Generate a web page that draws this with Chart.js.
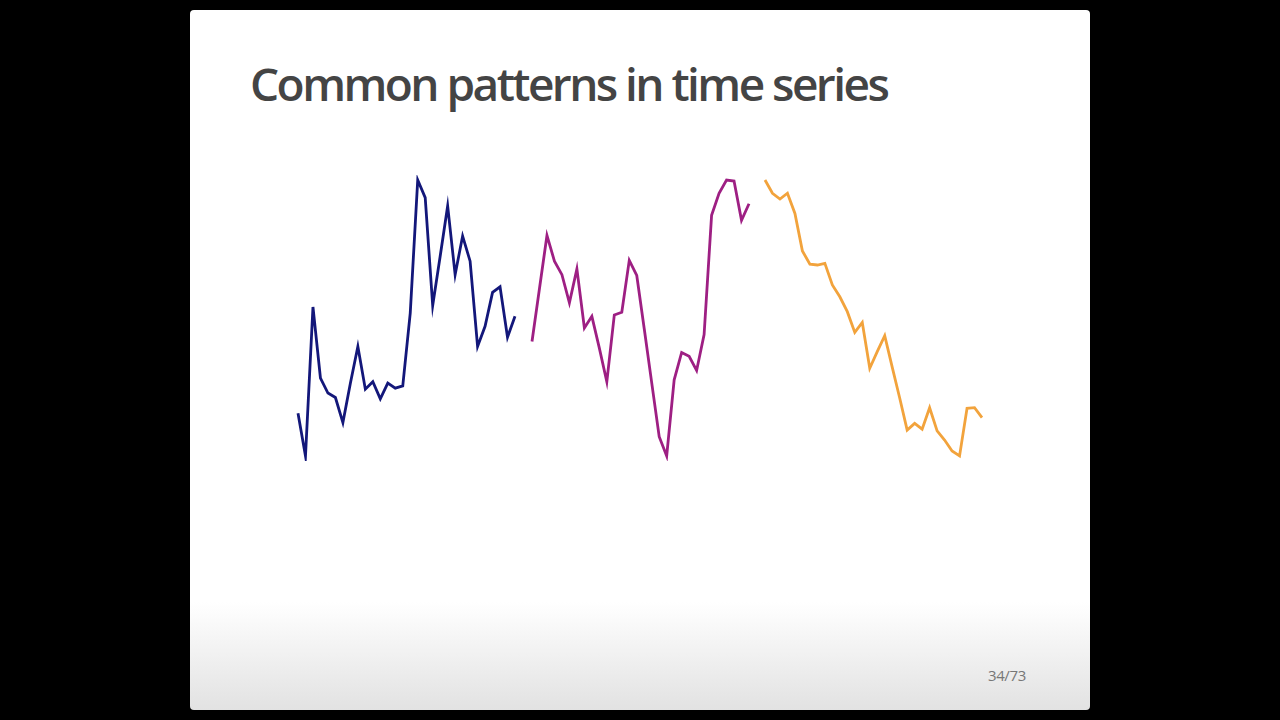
<!DOCTYPE html>
<html>
<head>
<meta charset="utf-8">
<script src="https://cdn.jsdelivr.net/npm/chart.js@4.4.0/dist/chart.umd.min.js"></script>
<style>
    html, body { margin: 0; padding: 0; background: #000; width: 1280px; height: 720px; overflow: hidden; }
    #slide {
        position: absolute; left: 190px; top: 10px; width: 900px; height: 700px; border-radius: 4px;
        background: linear-gradient(to bottom, #fff 0px, #fff 592px, #e2e2e2 700px);
    }
    #title {
        position: absolute; left: 60px; top: 42px; margin: 0;
        font-family: 'Open Sans', sans-serif; font-weight: 600; font-size: 46px; line-height: normal;
        letter-spacing: -2.55px; color: #444; white-space: nowrap;
    }
    .panel { position: absolute; top: 165px; }
    #page { position: absolute; left: 798px; top: 655px; font: 15px 'Open Sans', sans-serif; color: #777; letter-spacing: -0.4px; }
</style>
</head>
<body>
<div id="slide">
    <h1 id="title">Common patterns in time series</h1>
    <canvas class="panel" id="panel0" width="227" height="286"></canvas>
    <canvas class="panel" id="panel1" width="227" height="286"></canvas>
    <canvas class="panel" id="panel2" width="227" height="286"></canvas>
    <div id="page">34/73</div>
</div>
<script>
// values, scaled 0..100 within each panel
const steps = Array.from({ length: 30 }, (_, i) => i);

const navyValues = [15.5, 0, 54.0, 28.2, 22.8, 21.2, 12.1, 26.4, 39.7, 24.2,
    26.9, 20.7, 26.4, 24.6, 25.4, 51.8, 100, 93.6, 54.5, 72.4,
    90.6, 65.7, 79.7, 70.6, 39.7, 47.0, 59.3, 61.3, 43.0, 50.6];

const purpleValues = [41.5, 60.7, 79.9, 70.6, 65.7, 55.5, 67.8, 46.4, 50.6, 39.1,
    26.9, 51.1, 52.1, 70.9, 65.4, 46.1, 26.5, 7.0, 0, 27.6,
    37.5, 36.1, 31.0, 44.0, 87.2, 95.2, 100, 99.6, 85.4, 91.4];

const orangeValues = [100, 95.2, 93.1, 95.2, 87.9, 74.3, 69.5, 69.2, 69.8, 62.0,
    57.7, 52.3, 44.8, 48.4, 31.8, 37.8, 43.6, 32.2, 21.0, 9.4,
    11.8, 9.7, 17.5, 9.1, 5.8, 1.8, 0, 17.3, 17.5, 13.9];

const panels = [
    { values: navyValues, color: '#13177a' },
    { values: purpleValues, color: '#9e1f83' },
    { values: orangeValues, color: '#f2a33c' }
];

const panelLeft = 103.3;
const panelPitch = 233.35;

panels.forEach((panel, i) => {
    const canvas = document.getElementById('panel' + i);
    canvas.style.left = (panelLeft + i * panelPitch) + 'px';

    new Chart(canvas.getContext('2d'), {
        type: 'line',
        data: {
            labels: steps,
            datasets: [{
                data: panel.values,
                borderColor: panel.color,
                borderWidth: 2.8,
                pointRadius: 0,
                tension: 0,
                fill: false,
                clip: false
            }]
        },
        options: {
            responsive: false,
            animation: false,
            layout: { padding: 5 },
            plugins: { legend: { display: false }, tooltip: { enabled: false } },
            scales: {
                x: { display: false },
                y: { display: false, min: 0, max: 100 }
            }
        }
    });
});
</script>
</body>
</html>
